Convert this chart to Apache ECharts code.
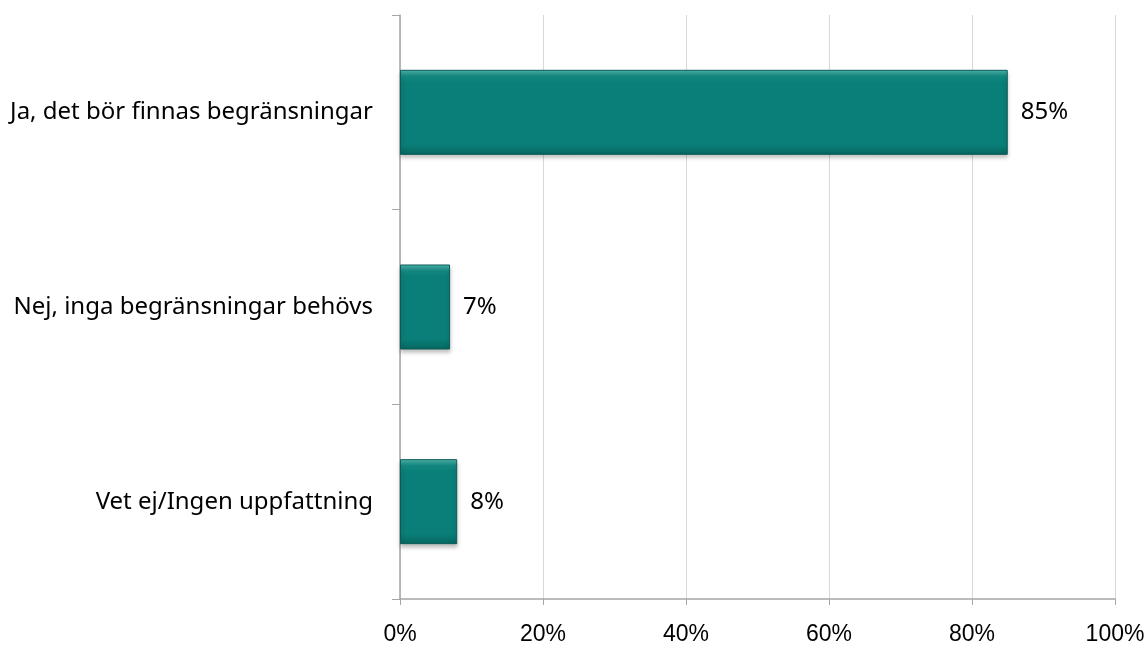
<!DOCTYPE html>
<html>
<head>
<meta charset="utf-8">
<script src="https://cdn.jsdelivr.net/npm/echarts@6/dist/echarts.min.js"></script>
<style>html,body{margin:0;padding:0;background:#fff;}#c{width:1148px;height:646px;}</style>
</head>
<body>
<div id="c"></div>
<script>
const categories = ['Ja, det bör finnas begränsningar', 'Nej, inga begränsningar behövs', 'Vet ej/Ingen uppfattning'];
const values = [85, 7, 8];
const xTicks = [0, 20, 40, 60, 80, 100];

const chart = echarts.init(document.getElementById('c'));
chart.setOption({
  animation: false,
  grid: { left: 400, right: 33, top: 15, bottom: 46, containLabel: false },
  xAxis: {
    type: 'value', min: 0, max: 100, interval: 20,
    axisLine: { show: true, lineStyle: { color: '#a6a6a6', width: 1.5 } },
    axisTick: { show: true, length: 6, lineStyle: { color: '#a6a6a6' } },
    splitLine: { show: true, lineStyle: { color: '#d9d9d9', width: 1 } },
    axisLabel: { formatter: v => v + '%', color: '#000', fontSize: 23, fontFamily: 'Liberation Sans, Arial', margin: 24 }
  },
  yAxis: {
    type: 'category', data: categories, inverse: true,
    axisLine: { show: true, lineStyle: { color: '#a6a6a6', width: 1.5 } },
    axisTick: { show: true, length: 8, lineStyle: { color: '#a6a6a6' } },
    splitLine: { show: false },
    axisLabel: { color: '#000', fontSize: 24, fontFamily: 'Noto Sans, Open Sans', margin: 27 }
  },
  series: [{
    type: 'bar',
    data: values,
    barWidth: 85,
    itemStyle: {
      color: new echarts.graphic.LinearGradient(0, 0, 0, 1, [
        { offset: 0, color: '#4fb8b0' },
        { offset: 0.08, color: '#12877f' },
        { offset: 0.15, color: '#0a7e78' },
        { offset: 0.88, color: '#0a7e78' },
        { offset: 1, color: '#066660' }
      ]),
      borderColor: '#0b5b56',
      borderWidth: 1,
      shadowColor: 'rgba(0,0,0,0.25)',
      shadowBlur: 4,
      shadowOffsetY: 3
    },
    label: {
      show: true, position: 'right', distance: 13,
      formatter: p => p.value + '%',
      color: '#000', fontSize: 24, fontFamily: 'Noto Sans, Open Sans'
    }
  }]
});
</script>
</body>
</html>
